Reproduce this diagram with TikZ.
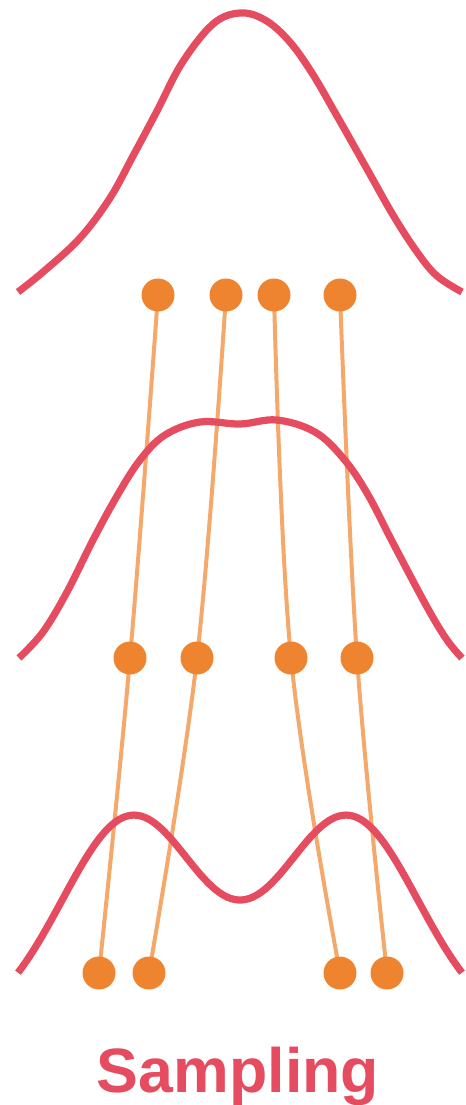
\documentclass[tikz,border=0pt]{standalone}
\usepackage{fontspec}
\setmainfont{Liberation Sans}
\pgfdeclarelayer{lines}
\pgfdeclarelayer{curves}
\pgfsetlayers{lines,curves,main}
\definecolor{cred}{HTML}{E54C5F}
\definecolor{cdot}{HTML}{EE842F}
\definecolor{cline}{HTML}{F4A96B}
\tikzset{
  dist/.style={draw=cred, line width=5.4pt},
  dotnode/.style={circle, fill=cdot, inner sep=0pt, minimum size=24.75pt},
  flow/.style={draw=cline, line width=3pt},
}
\begin{document}
\begin{tikzpicture}[x=0.75pt, y=-0.75pt]
\useasboundingbox (0,0) rectangle (465,1105);
% dots
\node[dotnode] (t1) at (158,295) {};
\node[dotnode] (t2) at (226,295) {};
\node[dotnode] (t3) at (274,295) {};
\node[dotnode] (t4) at (340,295) {};
\node[dotnode] (m1) at (130,658) {};
\node[dotnode] (m2) at (197,658) {};
\node[dotnode] (m3) at (291,658) {};
\node[dotnode] (m4) at (357,658) {};
\node[dotnode] (b1) at (99,973) {};
\node[dotnode] (b2) at (149,973) {};
\node[dotnode] (b3) at (340,973) {};
\node[dotnode] (b4) at (387,973) {};
% flow lines
\begin{pgfonlayer}{lines}
\draw[flow] plot[smooth, tension=0.6] coordinates {(t1) (m1) (b1)};
\draw[flow] plot[smooth, tension=0.6] coordinates {(t2) (m2) (b2)};
\draw[flow] plot[smooth, tension=0.6] coordinates {(t3) (m3) (b3)};
\draw[flow] plot[smooth, tension=0.6] coordinates {(t4) (m4) (b4)};
\end{pgfonlayer}
% distributions
\begin{pgfonlayer}{curves}
\draw[dist] plot[smooth, tension=0.6] coordinates {(18,292) (43,272) (80,238) (110,198) (133,156) (157,111) (182,63) (213,24) (240,13) (265,20) (289,41) (312,73) (337,116) (367,169) (393,215) (417,252) (437,276) (462,292)};
\draw[dist] plot[smooth, tension=0.6] coordinates {(19,658) (43,632) (67,592) (93,540) (117,496) (140,460) (165,435) (200,422) (240,424) (277,420) (315,432) (343,458) (367,493) (393,543) (427,607) (447,640) (462,658)};
\draw[dist] plot[domain=18:462, samples=120, smooth]
  (\x, {1029-212*(exp(-0.5*((\x-132)/70)^2)+exp(-0.5*((\x-348)/70)^2))});
\end{pgfonlayer}
\node[anchor=base, text=cred, font=\bfseries\fontsize{47pt}{56pt}\selectfont, inner sep=0pt] (lbl) at (238,1092) {Sampling};
\end{tikzpicture}
\end{document}
